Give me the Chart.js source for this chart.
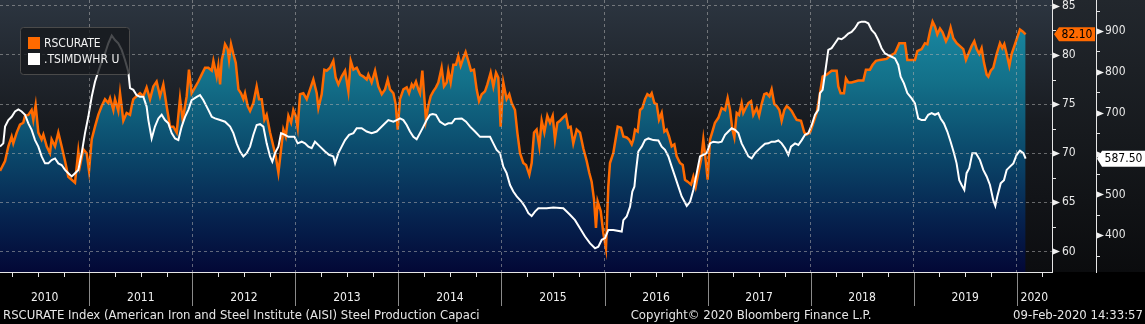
<!DOCTYPE html>
<html>
<head>
<meta charset="utf-8">
<script src="https://cdn.jsdelivr.net/npm/chart.js@4.4.1/dist/chart.umd.min.js"></script>
<style>
  html, body { margin: 0; padding: 0; background: #000; }
  canvas { display: block; }
</style>
</head>
<body>
<canvas id="grafica" width="1145" height="324"></canvas>
<script>
// Nombres de las series y textos
const nombresSeries = ['RSCURATE', '.TSIMDWHR U'];
const etiquetasAnios = ['2010', '2011', '2012', '2013', '2014', '2015', '2016', '2017', '2018', '2019', '2020'];
const textoFuente = 'RSCURATE Index (American Iron and Steel Institute (AISI) Steel Production Capaci';
const textoCopyright = 'Copyright\u00A9 2020 Bloomberg Finance L.P.';
const textoFecha = '09-Feb-2020 14:33:57';

// RSCURATE (eje izquierdo, %) - fechas en años decimales
const rscFechas = [
  2010.133, 2010.182, 2010.214, 2010.246, 2010.262, 2010.295, 2010.327, 2010.359, 2010.376, 2010.408,
  2010.440, 2010.456, 2010.479, 2010.505, 2010.537, 2010.554, 2010.586, 2010.618, 2010.634, 2010.667,
  2010.699, 2010.731, 2010.764, 2010.796, 2010.829, 2010.861, 2010.893, 2010.909, 2010.942, 2010.974,
  2010.997, 2011.023, 2011.055, 2011.087, 2011.120, 2011.152, 2011.184, 2011.201, 2011.233, 2011.249,
  2011.281, 2011.298, 2011.330, 2011.362, 2011.395, 2011.411, 2011.427, 2011.459, 2011.492, 2011.524,
  2011.556, 2011.589, 2011.621, 2011.653, 2011.686, 2011.718, 2011.750, 2011.783, 2011.815, 2011.848,
  2011.880, 2011.906, 2011.945, 2011.967, 2011.993, 2012.026, 2012.058, 2012.090, 2012.123, 2012.155,
  2012.188, 2012.204, 2012.236, 2012.252, 2012.269, 2012.285, 2012.301, 2012.317, 2012.343, 2012.356,
  2012.375, 2012.398, 2012.421, 2012.447, 2012.472, 2012.495, 2012.511, 2012.537, 2012.560, 2012.592,
  2012.624, 2012.647, 2012.673, 2012.699, 2012.721, 2012.754, 2012.786, 2012.809, 2012.835, 2012.861,
  2012.883, 2012.906, 2012.932, 2012.958, 2012.980, 2013.003, 2013.022, 2013.045, 2013.077, 2013.110,
  2013.142, 2013.174, 2013.207, 2013.223, 2013.255, 2013.281, 2013.304, 2013.336, 2013.368, 2013.391,
  2013.417, 2013.449, 2013.482, 2013.514, 2013.537, 2013.563, 2013.595, 2013.627, 2013.660, 2013.692,
  2013.708, 2013.740, 2013.773, 2013.805, 2013.838, 2013.870, 2013.896, 2013.918, 2013.951, 2013.973,
  2013.993, 2014.015, 2014.048, 2014.080, 2014.103, 2014.129, 2014.145, 2014.170, 2014.193, 2014.209,
  2014.232, 2014.248, 2014.267, 2014.290, 2014.313, 2014.338, 2014.364, 2014.387, 2014.419, 2014.442,
  2014.468, 2014.484, 2014.507, 2014.533, 2014.558, 2014.581, 2014.604, 2014.630, 2014.652, 2014.678,
  2014.704, 2014.733, 2014.759, 2014.782, 2014.808, 2014.840, 2014.863, 2014.895, 2014.921, 2014.947,
  2014.969, 2014.992, 2015.018, 2015.050, 2015.076, 2015.099, 2015.131, 2015.154, 2015.180, 2015.212,
  2015.238, 2015.270, 2015.293, 2015.316, 2015.341, 2015.367, 2015.390, 2015.416, 2015.445, 2015.471,
  2015.497, 2015.519, 2015.542, 2015.568, 2015.594, 2015.626, 2015.649, 2015.671, 2015.697, 2015.730,
  2015.762, 2015.794, 2015.827, 2015.852, 2015.875, 2015.898, 2015.917, 2015.933, 2015.963, 2015.988,
  2016.014, 2016.037, 2016.053, 2016.085, 2016.128, 2016.160, 2016.183, 2016.215, 2016.238, 2016.264,
  2016.280, 2016.296, 2016.322, 2016.345, 2016.367, 2016.393, 2016.416, 2016.442, 2016.458, 2016.484,
  2016.506, 2016.529, 2016.555, 2016.581, 2016.603, 2016.626, 2016.652, 2016.678, 2016.700, 2016.733,
  2016.759, 2016.781, 2016.807, 2016.840, 2016.862, 2016.885, 2016.911, 2016.937, 2016.959, 2016.982,
  2017.001, 2017.024, 2017.047, 2017.072, 2017.105, 2017.137, 2017.170, 2017.195, 2017.218, 2017.241,
  2017.260, 2017.283, 2017.305, 2017.331, 2017.347, 2017.370, 2017.396, 2017.422, 2017.444, 2017.477,
  2017.500, 2017.525, 2017.551, 2017.574, 2017.600, 2017.622, 2017.648, 2017.671, 2017.697, 2017.719,
  2017.745, 2017.768, 2017.790, 2017.816, 2017.842, 2017.865, 2017.907, 2017.939, 2017.962, 2017.994,
  2018.027, 2018.059, 2018.082, 2018.117, 2018.156, 2018.204, 2018.253, 2018.269, 2018.292, 2018.324,
  2018.343, 2018.366, 2018.398, 2018.431, 2018.463, 2018.512, 2018.537, 2018.576, 2018.602, 2018.634,
  2018.673, 2018.738, 2018.770, 2018.819, 2018.861, 2018.916, 2018.939, 2019.013, 2019.036, 2019.078,
  2019.110, 2019.133, 2019.159, 2019.184, 2019.207, 2019.230, 2019.256, 2019.281, 2019.314, 2019.337,
  2019.359, 2019.385, 2019.418, 2019.450, 2019.482, 2019.508, 2019.531, 2019.563, 2019.589, 2019.612,
  2019.637, 2019.660, 2019.683, 2019.709, 2019.725, 2019.748, 2019.773, 2019.806, 2019.838, 2019.861,
  2019.880, 2019.903, 2019.929, 2019.951, 2019.984, 2020.006, 2020.032, 2020.058, 2020.087
];
const rscValores = [
  68.2, 69.2, 70.7, 71.7, 71.0, 72.1, 72.9, 73.1, 73.8, 73.9,
  74.4, 73.4, 74.9, 72.1, 71.4, 71.9, 70.7, 70.0, 71.4, 70.7,
  72.1, 70.7, 69.2, 67.6, 67.3, 67.0, 70.2, 68.7, 70.4, 70.0,
  68.2, 71.4, 72.7, 73.9, 74.8, 75.5, 75.1, 75.6, 74.4, 75.5,
  74.3, 76.1, 73.3, 74.1, 73.9, 74.8, 75.5, 75.8, 76.1, 75.8,
  76.7, 75.5, 76.8, 77.3, 75.8, 77.0, 74.8, 72.7, 72.7, 72.1,
  75.6, 73.4, 75.8, 78.5, 76.1, 76.7, 77.3, 78.0, 78.7, 78.7,
  78.4, 79.4, 77.8, 78.9, 77.0, 79.5, 80.2, 81.1, 80.6, 79.5,
  81.1, 80.1, 79.2, 76.5, 76.1, 75.5, 76.1, 74.8, 74.3, 75.1,
  76.8, 75.5, 75.5, 73.4, 73.9, 72.1, 70.7, 69.7, 68.0, 70.4,
  72.4, 71.7, 73.8, 73.1, 74.4, 73.8, 72.6, 76.0, 76.1, 75.5,
  76.5, 77.5, 76.1, 74.6, 76.0, 78.5, 78.4, 78.7, 79.4, 77.7,
  77.0, 77.8, 78.4, 76.3, 79.4, 78.5, 78.7, 78.0, 77.8, 77.5,
  78.0, 77.2, 78.4, 76.8, 76.0, 76.5, 77.5, 76.5, 76.1, 75.0,
  72.4, 75.5, 76.5, 76.7, 76.1, 77.0, 76.7, 77.3, 76.5, 76.1,
  78.4, 76.1, 73.4, 74.8, 75.8, 76.3, 76.7, 77.2, 78.7, 76.8,
  77.2, 78.4, 77.2, 79.0, 79.0, 79.9, 78.9, 79.7, 80.3, 79.4,
  78.4, 78.5, 76.5, 75.3, 76.0, 76.3, 77.0, 78.2, 76.8, 78.2,
  77.7, 72.7, 77.2, 75.5, 76.0, 75.1, 74.4, 72.1, 70.0, 69.0,
  68.8, 67.8, 69.0, 72.1, 72.4, 70.7, 73.3, 72.1, 73.8, 73.1,
  73.8, 71.4, 73.1, 73.3, 73.6, 73.9, 72.6, 72.7, 71.0, 72.4,
  72.1, 70.5, 69.2, 68.0, 67.1, 65.3, 62.4, 65.1, 64.1, 61.9,
  60.3, 66.6, 69.0, 70.0, 72.7, 72.6, 71.7, 71.6, 71.4, 70.9,
  71.4, 72.4, 72.2, 74.4, 74.6, 75.5, 76.0, 75.8, 76.1, 75.1,
  75.0, 73.4, 74.1, 72.2, 72.4, 71.7, 70.7, 70.9, 69.7, 69.0,
  68.8, 67.3, 67.1, 66.8, 67.6, 66.6, 68.0, 69.3, 71.4, 69.3,
  67.3, 71.4, 72.2, 73.1, 73.6, 74.6, 74.4, 75.6, 74.4, 72.4,
  71.6, 74.1, 73.9, 75.1, 74.1, 74.6, 75.1, 75.3, 73.9, 74.6,
  73.8, 75.0, 76.0, 76.1, 75.8, 76.5, 75.0, 74.8, 74.4, 73.3,
  74.4, 74.8, 74.6, 74.3, 73.8, 73.4, 73.3, 72.1, 71.9, 72.1,
  73.1, 74.1, 75.5, 77.8, 78.0, 78.4, 78.4, 76.8, 76.1, 76.1,
  77.6, 77.2, 77.2, 77.3, 77.4, 77.4, 78.5, 78.5, 79.0, 79.4,
  79.5, 79.6, 79.9, 80.2, 81.2, 81.2, 79.5, 79.5, 80.4, 80.6,
  81.2, 81.1, 82.4, 83.4, 82.9, 82.1, 82.7, 82.3, 81.4, 81.9,
  82.8, 81.7, 81.2, 80.9, 80.6, 79.5, 80.1, 80.9, 81.4, 80.6,
  80.1, 80.7, 79.2, 78.0, 77.8, 78.4, 78.7, 80.1, 81.2, 80.7,
  81.1, 80.1, 78.9, 80.1, 81.1, 81.8, 82.6, 82.4, 82.1
];

// .TSIMDWHR U (eje derecho, USD/t)
const tsiFechas = [
  2010.133, 2010.165, 2010.182, 2010.214, 2010.246, 2010.279, 2010.311, 2010.343, 2010.376, 2010.408,
  2010.440, 2010.473, 2010.505, 2010.537, 2010.570, 2010.602, 2010.634, 2010.667, 2010.699, 2010.731,
  2010.764, 2010.796, 2010.829, 2010.861, 2010.893, 2010.926, 2010.958, 2010.990, 2011.023, 2011.055,
  2011.087, 2011.120, 2011.152, 2011.184, 2011.217, 2011.249, 2011.281, 2011.314, 2011.346, 2011.378,
  2011.395, 2011.427, 2011.459, 2011.492, 2011.524, 2011.556, 2011.573, 2011.605, 2011.637, 2011.670,
  2011.702, 2011.734, 2011.767, 2011.799, 2011.832, 2011.864, 2011.896, 2011.929, 2011.961, 2011.993,
  2012.042, 2012.074, 2012.106, 2012.139, 2012.155, 2012.188, 2012.220, 2012.269, 2012.317, 2012.366,
  2012.398, 2012.430, 2012.463, 2012.495, 2012.527, 2012.560, 2012.592, 2012.624, 2012.657, 2012.689,
  2012.721, 2012.754, 2012.776, 2012.802, 2012.835, 2012.861, 2012.899, 2012.932, 2012.990, 2013.022,
  2013.061, 2013.093, 2013.126, 2013.158, 2013.190, 2013.239, 2013.288, 2013.326, 2013.368, 2013.385,
  2013.417, 2013.449, 2013.482, 2013.521, 2013.563, 2013.595, 2013.643, 2013.692, 2013.740, 2013.789,
  2013.821, 2013.870, 2013.902, 2013.951, 2013.983, 2014.015, 2014.048, 2014.080, 2014.112, 2014.145,
  2014.177, 2014.209, 2014.242, 2014.274, 2014.306, 2014.332, 2014.364, 2014.403, 2014.452, 2014.484,
  2014.517, 2014.549, 2014.614, 2014.656, 2014.695, 2014.743, 2014.792, 2014.824, 2014.889, 2014.921,
  2014.953, 2014.986, 2015.018, 2015.050, 2015.083, 2015.115, 2015.148, 2015.196, 2015.228, 2015.261,
  2015.293, 2015.325, 2015.358, 2015.439, 2015.503, 2015.600, 2015.633, 2015.665, 2015.714, 2015.762,
  2015.811, 2015.860, 2015.908, 2015.940, 2015.973, 2016.005, 2016.037, 2016.085, 2016.167, 2016.183,
  2016.215, 2016.248, 2016.270, 2016.290, 2016.303, 2016.328, 2016.361, 2016.393, 2016.426, 2016.474,
  2016.523, 2016.555, 2016.587, 2016.620, 2016.652, 2016.684, 2016.717, 2016.749, 2016.798, 2016.830,
  2016.862, 2016.895, 2016.927, 2016.959, 2016.992, 2017.024, 2017.056, 2017.105, 2017.137, 2017.170,
  2017.202, 2017.234, 2017.267, 2017.299, 2017.331, 2017.364, 2017.396, 2017.428, 2017.461, 2017.493,
  2017.525, 2017.558, 2017.590, 2017.622, 2017.655, 2017.687, 2017.719, 2017.752, 2017.784, 2017.810,
  2017.849, 2017.881, 2017.914, 2017.946, 2017.978, 2018.011, 2018.043, 2018.075, 2018.091, 2018.117,
  2018.140, 2018.172, 2018.204, 2018.237, 2018.269, 2018.301, 2018.334, 2018.366, 2018.398, 2018.431,
  2018.463, 2018.495, 2018.528, 2018.560, 2018.592, 2018.625, 2018.657, 2018.689, 2018.722, 2018.754,
  2018.787, 2018.819, 2018.851, 2018.874, 2018.906, 2018.939, 2018.981, 2019.013, 2019.045, 2019.078,
  2019.110, 2019.142, 2019.175, 2019.207, 2019.239, 2019.262, 2019.294, 2019.327, 2019.359, 2019.392,
  2019.417, 2019.443, 2019.466, 2019.492, 2019.514, 2019.540, 2019.570, 2019.605, 2019.644, 2019.676,
  2019.709, 2019.741, 2019.773, 2019.793, 2019.812, 2019.845, 2019.877, 2019.903, 2019.935, 2019.968,
  2020.000, 2020.032, 2020.065, 2020.087
];
const tsiValores = [
  617, 625, 666, 682, 690, 703, 708, 703, 695, 674,
  658, 633, 617, 593, 576, 576, 584, 588, 576, 572,
  560, 552, 544, 552, 560, 601, 650, 690, 739, 776,
  801, 825, 845, 870, 889, 878, 870, 854, 829, 801,
  760, 756, 743, 739, 739, 715, 682, 637, 666, 686,
  695, 682, 674, 650, 637, 633, 666, 690, 707, 731,
  739, 743, 731, 715, 707, 690, 686, 682, 678, 666,
  650, 625, 605, 593, 601, 617, 646, 670, 672, 666,
  625, 593, 580, 601, 617, 650, 646, 641, 641, 625,
  629, 625, 617, 613, 629, 617, 605, 597, 593, 576,
  601, 617, 633, 646, 650, 662, 662, 654, 650, 654,
  662, 674, 682, 678, 682, 686, 682, 670, 654, 641,
  635, 650, 666, 682, 695, 697, 695, 678, 670, 674,
  674, 685, 686, 678, 666, 654, 641, 641, 641, 625,
  609, 601, 568, 552, 523, 507, 495, 482, 470, 454,
  447, 458, 466, 466, 468, 466, 458, 450, 437, 417,
  397, 380, 368, 372, 389, 393, 413, 413, 409, 437,
  446, 470, 507, 519, 552, 605, 617, 633, 637, 633,
  632, 617, 609, 593, 568, 544, 519, 495, 472, 482,
  511, 552, 593, 597, 601, 625, 629, 627, 629, 646,
  654, 662, 658, 650, 625, 609, 593, 588, 601, 609,
  617, 624, 625, 629, 629, 632, 625, 613, 597, 617,
  625, 621, 633, 646, 650, 670, 695, 707, 748, 756,
  796, 854, 858, 870, 882, 880, 886, 894, 898, 907,
  920, 923, 923, 919, 903, 894, 878, 858, 845, 841,
  837, 833, 817, 788, 772, 748, 735, 723, 686, 682,
  682, 695, 699, 695, 699, 686, 674, 654, 629, 601,
  576, 535, 523, 511, 552, 564, 601, 601, 584, 560,
  544, 523, 486, 472, 495, 527, 535, 560, 568, 576,
  597, 607, 601, 587.5
];

const FUENTE = '"DejaVu Sans Condensed", "Liberation Sans Narrow", "DejaVu Sans", sans-serif';
const NARANJA = '#ff6a00';
const BLANCO = '#ffffff';
const COLOR_REJILLA = 'rgba(175, 175, 175, 0.55)';

const ultimoRsc = rscValores[rscValores.length - 1];
const ultimoTsi = tsiValores[tsiValores.length - 1];

const ctx = document.getElementById('grafica').getContext('2d');

// Une fechas y valores en puntos {x, y}
function puntos(fechas, valores) {
    return fechas.map((f, i) => ({ x: f, y: valores[i] }));
}

// Degradado del área bajo la serie naranja
function degradadoRelleno(chart) {
    const a = chart.chartArea;
    if (!a) return '#0b4468';
    const g = chart.ctx.createLinearGradient(0, a.top, 0, a.bottom);
    g.addColorStop(0, '#1b90aa');
    g.addColorStop(0.3, '#137089');
    g.addColorStop(0.55, '#0b4a6c');
    g.addColorStop(0.8, '#06234f');
    g.addColorStop(1, '#030836');
    return g;
}

// Quita el relleno que Chart.js reserva para las etiquetas extremas
function sinRelleno(s) {
    s.paddingTop = 0;
    s.paddingBottom = 0;
    s.paddingLeft = 0;
    s.paddingRight = 0;
}

// Fondo del gráfico
const fondo = {
    id: 'fondo',
    beforeDraw(chart) {
        const c = chart.ctx;
        const a = chart.chartArea;
        c.save();
        c.fillStyle = '#000';
        c.fillRect(0, 0, chart.width, chart.height);
        const g = c.createLinearGradient(0, a.top, 0, a.bottom);
        g.addColorStop(0, '#2c3540');
        g.addColorStop(0.45, '#181b20');
        g.addColorStop(1, '#0c0d10');
        c.fillStyle = g;
        c.fillRect(a.left, a.top, a.right - a.left, a.bottom - a.top);
        const g2 = c.createLinearGradient(0, 0, 0, a.bottom);
        g2.addColorStop(0, '#22272d');
        g2.addColorStop(1, '#0b0c0e');
        c.fillStyle = g2;
        c.fillRect(a.right, 0, chart.width - a.right, a.bottom);
        c.restore();
    }
};

function linea(c, x1, y1, x2, y2) {
    c.beginPath();
    c.moveTo(x1, y1);
    c.lineTo(x2, y2);
    c.stroke();
}

// Ejes, marcas, etiquetas de años, pie, leyenda y últimos valores
const decoracion = {
    id: 'decoracion',
    afterDraw(chart) {
        const c = chart.ctx;
        const a = chart.chartArea;
        const sx = chart.scales.x, sy = chart.scales.y, sy1 = chart.scales.y1;
        c.save();

        // líneas de ejes
        c.strokeStyle = '#e6e6e6';
        c.lineWidth = 1;
        linea(c, a.left, a.bottom + 0.5, a.right, a.bottom + 0.5);
        linea(c, sy.left + 0.5, a.top, sy.left + 0.5, a.bottom + 1);
        linea(c, sy1.left + 0.5, a.top, sy1.left + 0.5, a.bottom + 1);

        // marcas trimestrales y separadores de años
        for (let anio = 2010; anio <= 2020; anio++) {
            for (let q = 0; q < 4; q++) {
                const v = anio + q / 4;
                if (v < sx.min || v > sx.max) continue;
                const px = Math.round(sx.getPixelForValue(v)) + 0.5;
                if (q === 0) {
                    c.strokeStyle = '#8a8a8a';
                    linea(c, px, a.bottom + 1, px, a.bottom + 34);
                } else {
                    c.strokeStyle = '#e6e6e6';
                    linea(c, px, a.bottom + 1, px, a.bottom + 5);
                }
            }
        }

        // etiquetas de años centradas en cada tramo
        c.fillStyle = '#f0f0f0';
        c.font = '12px ' + FUENTE;
        c.textAlign = 'center';
        c.textBaseline = 'middle';
        etiquetasAnios.forEach((et, i) => {
            const anio = 2010 + i;
            const l = Math.max(sx.getPixelForValue(anio), a.left);
            const r = Math.min(sx.getPixelForValue(anio + 1), a.right);
            c.fillText(et, (l + r) / 2, a.bottom + 26);
        });

        // pie de página
        c.font = '13px ' + FUENTE;
        c.fillStyle = '#e6e6e6';
        c.textAlign = 'left';
        c.fillText(textoFuente, 3, a.bottom + 44);
        c.textAlign = 'center';
        c.fillText(textoCopyright, 751, a.bottom + 44);
        c.textAlign = 'right';
        c.fillText(textoFecha, chart.width - 2, a.bottom + 44);

        // flechas y marcas menores en los ejes verticales
        [[sy, 5], [sy1, 100]].forEach(([s, paso]) => {
            s.ticks.forEach(t => {
                const py = Math.round(s.getPixelForValue(t.value)) + 0.5;
                if (t.value % paso === 0) {
                    c.fillStyle = '#f0f0f0';
                    c.beginPath();
                    c.moveTo(s.left + 1, py - 3);
                    c.lineTo(s.left + 8, py);
                    c.lineTo(s.left + 1, py + 3);
                    c.closePath();
                    c.fill();
                } else {
                    c.strokeStyle = '#e6e6e6';
                    linea(c, s.left + 1, py, s.left + 4, py);
                }
            });
        });

        // últimos valores
        c.font = '12px ' + FUENTE;
        let yc = sy.getPixelForValue(ultimoRsc);
        c.fillStyle = NARANJA;
        c.beginPath();
        c.moveTo(sy.left + 2, yc);
        c.lineTo(sy.left + 7, yc - 7);
        c.lineTo(sy1.left - 1, yc - 7);
        c.lineTo(sy1.left - 1, yc + 7);
        c.lineTo(sy.left + 7, yc + 7);
        c.closePath();
        c.fill();
        c.fillStyle = '#000';
        c.textAlign = 'center';
        c.fillText(ultimoRsc.toFixed(2), (sy.left + 7 + sy1.left - 1) / 2, yc + 0.5);

        yc = sy1.getPixelForValue(ultimoTsi);
        c.fillStyle = BLANCO;
        c.beginPath();
        c.moveTo(sy1.left + 1, yc);
        c.lineTo(sy1.left + 6, yc - 8);
        c.lineTo(chart.width, yc - 8);
        c.lineTo(chart.width, yc + 8);
        c.lineTo(sy1.left + 6, yc + 8);
        c.closePath();
        c.fill();
        c.fillStyle = '#000';
        c.fillText(ultimoTsi.toFixed(2), (sy1.left + 6 + chart.width) / 2, yc + 0.5);

        // leyenda
        c.fillStyle = 'rgba(22, 24, 28, 0.78)';
        c.strokeStyle = '#4a4a4a';
        c.beginPath();
        c.moveTo(23.5, 27.5);
        c.lineTo(126.5, 27.5);
        c.quadraticCurveTo(129.5, 27.5, 129.5, 30.5);
        c.lineTo(129.5, 71.5);
        c.quadraticCurveTo(129.5, 74.5, 126.5, 74.5);
        c.lineTo(23.5, 74.5);
        c.quadraticCurveTo(20.5, 74.5, 20.5, 71.5);
        c.lineTo(20.5, 30.5);
        c.quadraticCurveTo(20.5, 27.5, 23.5, 27.5);
        c.closePath();
        c.fill();
        c.stroke();
        const colores = [NARANJA, BLANCO];
        c.textAlign = 'left';
        nombresSeries.forEach((n, i) => {
            c.fillStyle = colores[i];
            c.fillRect(28, 37 + i * 16, 12, 12);
            c.fillStyle = '#f2f2f2';
            c.fillText(n, 44, 43.5 + i * 16);
        });

        c.restore();
    }
};

const grafica = new Chart(ctx, {
    type: 'line',
    data: {
        datasets: [
            {
                label: nombresSeries[0],
                data: puntos(rscFechas, rscValores),
                yAxisID: 'y',
                borderColor: NARANJA,
                borderWidth: 2.5,
                pointRadius: 0,
                tension: 0,
                fill: 'start',
                backgroundColor: (c) => degradadoRelleno(c.chart),
                order: 1
            },
            {
                label: nombresSeries[1],
                data: puntos(tsiFechas, tsiValores),
                yAxisID: 'y1',
                borderColor: BLANCO,
                borderWidth: 2,
                pointRadius: 0,
                tension: 0,
                fill: false,
                order: 0
            }
        ]
    },
    options: {
        responsive: false,
        animation: false,
        devicePixelRatio: 1,
        layout: { padding: 0 },
        plugins: {
            legend: { display: false },
            tooltip: { enabled: false }
        },
        scales: {
            x: {
                type: 'linear',
                min: 2010.133,
                max: 2020.343,
                ticks: { stepSize: 1, includeBounds: false, display: false },
                grid: { color: COLOR_REJILLA, drawTicks: false, z: 1 },
                border: { display: false, dash: [3, 3] },
                afterFit: (s) => { s.height = 52; sinRelleno(s); }
            },
            y: {
                position: 'right',
                weight: 0,
                min: 57.9,
                max: 85.6,
                ticks: {
                    stepSize: 2.5,
                    includeBounds: false,
                    autoSkip: false,
                    padding: 10,
                    color: '#e8e8e8',
                    font: { family: FUENTE, size: 12 },
                    callback: (v) => (v % 5 === 0 ? v : '')
                },
                grid: {
                    color: (c) => (c.tick && c.tick.value % 5 === 0 ? COLOR_REJILLA : 'rgba(0,0,0,0)'),
                    drawTicks: false,
                    z: 1
                },
                border: { display: false, dash: [3, 3] },
                afterFit: (s) => { s.width = 44; sinRelleno(s); }
            },
            y1: {
                position: 'right',
                weight: 1,
                min: 310,
                max: 976,
                ticks: {
                    stepSize: 50,
                    includeBounds: false,
                    autoSkip: false,
                    padding: 9,
                    color: '#e8e8e8',
                    font: { family: FUENTE, size: 12 },
                    // la etiqueta tapada por el último valor no se muestra
                    callback: (v) => (v % 100 === 0 && Math.abs(v - ultimoTsi) > 40 ? v : '')
                },
                grid: { drawOnChartArea: false, drawTicks: false },
                border: { display: false },
                afterFit: (s) => { s.width = 49; sinRelleno(s); }
            }
        }
    },
    plugins: [fondo, decoracion]
});
</script>
</body>
</html>
